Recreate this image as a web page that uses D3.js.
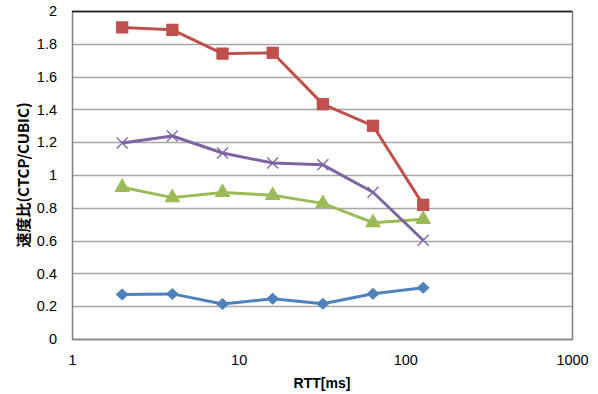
<!DOCTYPE html>
<html>
<head>
<meta charset="utf-8">
<script src="https://cdn.jsdelivr.net/npm/d3@7"></script>
<style>
	body { margin: 0; background: #fff; }
	text { font-family: 'Liberation Sans', 'DejaVu Sans', sans-serif; fill: #000; }
</style>
</head>
<body>
<script>

// RTT waarden (ms) op de x-as
const rtt = [ 2, 4, 8, 16, 32, 64, 128 ]

// Series
const redSquare = [ 1.90, 1.885, 1.74, 1.745, 1.432, 1.30, 0.818 ]
const purpleCross = [ 1.195, 1.238, 1.134, 1.073, 1.062, 0.895, 0.602 ]
const greenTriangle = [ 0.925, 0.862, 0.894, 0.876, 0.827, 0.709, 0.730 ]
const blueDiamond = [ 0.272, 0.275, 0.213, 0.246, 0.215, 0.276, 0.313 ]

const yTicks = [ 0, 0.2, 0.4, 0.6, 0.8, 1, 1.2, 1.4, 1.6, 1.8, 2 ]
const xTicks = [ 1, 10, 100, 1000 ]

const series = [
	{ values: blueDiamond, color: '#4F81BD', symbol: 'diamond' },
	{ values: redSquare, color: '#C0504D', symbol: 'square' },
	{ values: greenTriangle, color: '#9BBB59', symbol: 'triangle' },
	{ values: purpleCross, color: '#8064A2', symbol: 'cross' }
]

const width = 598,
	height = 394,
	margin = { top: 11, right: 26, bottom: 55, left: 72 }

const svg = d3.select( 'body' )
	.append( 'svg' )
	.attr( 'width', width )
	.attr( 'height', height )

const x = d3.scaleLog()
	.domain( [ 1, 1000 ] )
	.range( [ margin.left, width - margin.right ] )

const y = d3.scaleLinear()
	.domain( [ 0, 2 ] )
	.range( [ height - margin.bottom, margin.top ] )

// Gridlijnen
svg.append( 'g' )
	.selectAll( 'line' )
	.data( yTicks )
	.enter()
	.append( 'line' )
	.attr( 'x1', x( 1 ) )
	.attr( 'x2', x( 1000 ) )
	.attr( 'y1', d => Math.round( y( d ) ) + 0.5 )
	.attr( 'y2', d => Math.round( y( d ) ) + 0.5 )
	.attr( 'stroke', '#a6a6a6' )
	.attr( 'stroke-width', 1.5 )

// Rand van het plotgebied
svg.append( 'rect' )
	.attr( 'x', x( 1 ) + 0.5 )
	.attr( 'y', y( 2 ) + 0.5 )
	.attr( 'width', x( 1000 ) - x( 1 ) )
	.attr( 'height', y( 0 ) - y( 2 ) )
	.attr( 'fill', 'none' )
	.attr( 'stroke', '#7f7f7f' )
	.attr( 'stroke-width', 1.5 )

svg.append( 'line' )
	.attr( 'x1', x( 1 ) )
	.attr( 'x2', x( 1000 ) )
	.attr( 'y1', y( 2 ) + 0.5 )
	.attr( 'y2', y( 2 ) + 0.5 )
	.attr( 'stroke', '#222' )
	.attr( 'stroke-width', 1.5 )

// Y-as labels
const yAxis = svg.append( 'g' )
	.attr( 'transform', `translate( ${ x( 1 ) - 6 }, 0 )` )
	.call( d3.axisLeft( y ).tickValues( yTicks ).tickSize( 0 ).tickFormat( d3.format( '' ) ) )

yAxis.select( '.domain' ).remove()
yAxis.selectAll( 'text' )
	.attr( 'x', -9 )
	.style( 'font-size', '14.5px' )
	.style( 'font-family', "'Liberation Sans', sans-serif" )

// X-as labels
const xAxis = svg.append( 'g' )
	.attr( 'transform', `translate( 0, ${ y( 0 ) + 13 } )` )
	.call( d3.axisBottom( x ).tickValues( xTicks ).tickSize( 0 ).tickFormat( d3.format( '' ) ) )

xAxis.select( '.domain' ).remove()
xAxis.selectAll( 'text' )
	.style( 'font-size', '14.5px' )
	.style( 'font-family', "'Liberation Sans', sans-serif" )

// Astitels
svg.append( 'text' )
	.attr( 'x', ( x( 1 ) + x( 1000 ) ) / 2 )
	.attr( 'y', 388 )
	.attr( 'text-anchor', 'middle' )
	.style( 'font-size', '14px' )
	.style( 'font-weight', 'bold' )
	.text( 'RTT[ms]' )

svg.append( 'text' )
	.attr( 'transform', `translate( 29, ${ ( y( 0 ) + y( 2 ) ) / 2 } ) rotate( -90 )` )
	.attr( 'text-anchor', 'middle' )
	.style( 'font-size', '15px' )
	.style( 'font-weight', 'bold' )
	.style( 'font-family', "'Noto Sans CJK JP', 'Liberation Sans', sans-serif" )
	.text( '速度比(CTCP/CUBIC)' )

const line = d3.line()
	.x( ( d, i ) => x( rtt[ i ] ) )
	.y( d => y( d ) )

const symbols = {
	square: d3.symbol().type( d3.symbolSquare ).size( 150 ),
	triangle: d3.symbol().type( d3.symbolTriangle ).size( 110 )
}

const serie = svg.selectAll( '.serie' )
	.data( series )
	.enter()
	.append( 'g' )
	.attr( 'class', 'serie' )

serie.append( 'path' )
	.attr( 'fill', 'none' )
	.attr( 'stroke', d => d.color )
	.attr( 'stroke-width', 3 )
	.attr( 'stroke-linejoin', 'round' )
	.attr( 'd', d => line( d.values ) )

serie.each( function( s ) {

	const g = d3.select( this )
		.selectAll( '.marker' )
		.data( s.values )
		.enter()
		.append( 'g' )
		.attr( 'class', 'marker' )
		.attr( 'transform', ( d, i ) => `translate( ${ x( rtt[ i ] ) }, ${ y( d ) } )` )

	if ( s.symbol === 'cross' ) {
		// Kruisje zoals in Excel
		g.append( 'path' )
			.attr( 'd', 'M-5.5,-5.5L5.5,5.5M-5.5,5.5L5.5,-5.5' )
			.attr( 'stroke', s.color )
			.attr( 'stroke-width', 1.3 )
			.attr( 'fill', 'none' )
	} else if ( s.symbol === 'diamond' ) {
		// Excel ruit: breder dan de d3 variant
		g.append( 'path' )
			.attr( 'd', 'M0,-6L6.5,0L0,6L-6.5,0Z' )
			.attr( 'fill', s.color )
	} else {
		g.append( 'path' )
			.attr( 'd', symbols[ s.symbol ]() )
			.attr( 'fill', s.color )
	}

})

</script>
</body>
</html>
